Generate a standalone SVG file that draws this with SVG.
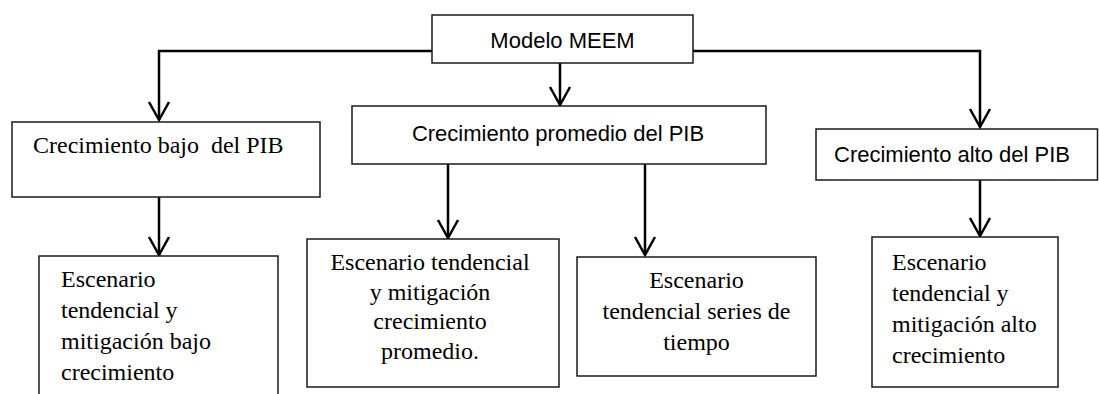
<svg xmlns="http://www.w3.org/2000/svg" width="1099" height="394" viewBox="0 0 1099 394">
<style>
.box{fill:#fff;stroke:#1a1a1a;stroke-width:1.5}
.con{fill:none;stroke:#000;stroke-width:2.5}
.sans{font-family:"Liberation Sans",Arial,sans-serif;font-size:22px;fill:#000}
.serif{font-family:"Liberation Serif","Times New Roman",serif;font-size:24px;fill:#000}
.mid{text-anchor:middle}
.pre{white-space:pre}
</style>
<defs>
<marker id="arr" markerUnits="userSpaceOnUse" markerWidth="30" markerHeight="30" refX="0" refY="0" orient="auto" overflow="visible">
<path d="M-18,-10 L0,0 L-18,10" fill="none" stroke="#000" stroke-width="2.5"/>
</marker>
</defs>
<rect width="1099" height="394" fill="#fff"/>
<g id="connectors">
<path class="con" d="M432,51 H159 V120" marker-end="url(#arr)"/>
<path class="con" d="M560,63 V105" marker-end="url(#arr)"/>
<path class="con" d="M693,51 H980 V127" marker-end="url(#arr)"/>
<path class="con" d="M159,197 V255" marker-end="url(#arr)"/>
<path class="con" d="M448,164 V238" marker-end="url(#arr)"/>
<path class="con" d="M645,164 V255" marker-end="url(#arr)"/>
<path class="con" d="M980,180 V236" marker-end="url(#arr)"/>
</g>
<g id="modelo">
<rect class="box" x="432" y="15" width="261" height="48"/>
<text class="sans mid" x="562.5" y="48">Modelo MEEM</text>
</g>
<g id="bajo">
<rect class="box" x="12" y="122" width="308" height="75"/>
<text class="serif pre" x="33" y="153" xml:space="preserve">Crecimiento bajo  del PIB</text>
</g>
<g id="promedio">
<rect class="box" x="352" y="106" width="414" height="58"/>
<text class="sans mid" x="558" y="141">Crecimiento promedio del PIB</text>
</g>
<g id="alto">
<rect class="box" x="816" y="129" width="281.5" height="51"/>
<text class="sans" x="834" y="162">Crecimiento alto del PIB</text>
</g>
<g id="esc-bajo">
<rect class="box" x="39" y="256" width="239" height="150"/>
<text class="serif" x="61" y="287">Escenario</text>
<text class="serif" x="61" y="318">tendencial y</text>
<text class="serif" x="61" y="349">mitigación bajo</text>
<text class="serif" x="61" y="380">crecimiento</text>
</g>
<g id="esc-promedio">
<rect class="box" x="307" y="239" width="252" height="148"/>
<text class="serif mid" x="430" y="270">Escenario tendencial</text>
<text class="serif mid" x="430" y="299.5">y mitigación</text>
<text class="serif mid" x="430" y="329">crecimiento</text>
<text class="serif mid" x="430" y="358.5">promedio.</text>
</g>
<g id="esc-series">
<rect class="box" x="577" y="257" width="239" height="119"/>
<text class="serif mid" x="696.5" y="288">Escenario</text>
<text class="serif mid" x="696.5" y="319">tendencial series de</text>
<text class="serif mid" x="696.5" y="350">tiempo</text>
</g>
<g id="esc-alto">
<rect class="box" x="872" y="237" width="186" height="150"/>
<text class="serif" x="892" y="270">Escenario</text>
<text class="serif" x="892" y="301">tendencial y</text>
<text class="serif" x="892" y="332">mitigación alto</text>
<text class="serif" x="892" y="363">crecimiento</text>
</g>
</svg>
